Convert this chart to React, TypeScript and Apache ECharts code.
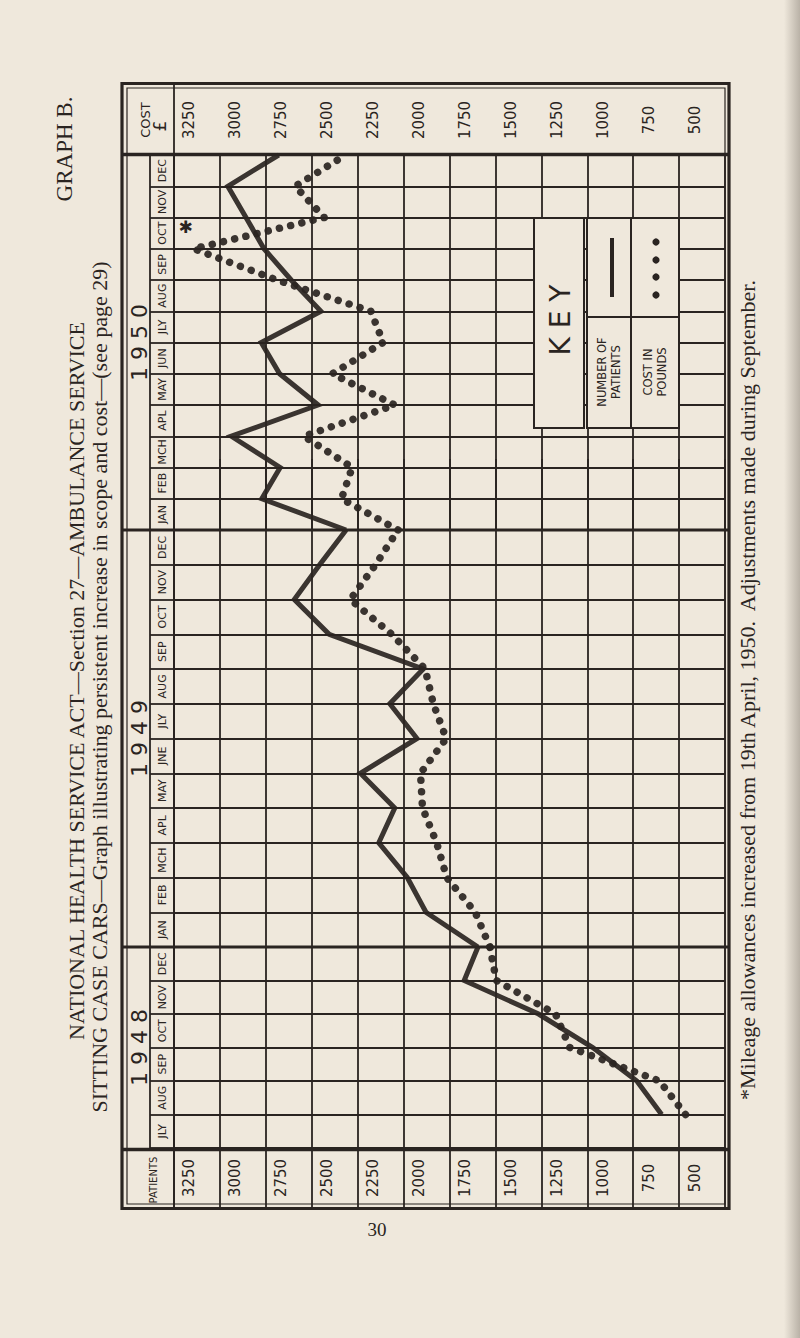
import React, { useEffect, useRef } from "react";
import * as echarts from "echarts";

// ---------- data ----------
const costTicks = ["3250", "3000", "2750", "2500", "2250", "2000", "1750", "1500", "1250", "1000", "750", "500"];
const months1948 = ["JLY", "AUG", "SEP", "OCT", "NOV", "DEC"];
const months1949 = ["JAN", "FEB", "MCH", "APL", "MAY", "JNE", "JLY", "AUG", "SEP", "OCT", "NOV", "DEC"];
const months1950 = ["JAN", "FEB", "MCH", "APL", "MAY", "JUN", "JLY", "AUG", "SEP", "OCT", "NOV", "DEC"];

const patients1948 = [720, 855, 1095, 1390, 1795, 1720];
const patients1949 = [2003, 2105, 2260, 2173, 2360, 2052, 2200, 2018, 2530, 2720, 2582, 2438];
const patients1950 = [2897, 2797, 3063, 2590, 2800, 2900, 2575, 2737, 2885, 2983, 3082, 2805];

const cost1948 = [590, 732, 1220, 1298, 1620, 1655];
const cost1949 = [1735, 1890, 1945, 2022, 2033, 1893, 1963, 2008, 2190, 2415, 2278, 2155];
const cost1950 = [2463, 2405, 2668, 2173, 2513, 2236, 2303, 2815, 3268, 2557, 2715, 2440];

const yearLabels = ["1 9 5 0", "1 9 4 9", "1 9 4 8"];
const adjustedMonthIndex1950 = 8; // September 1950 (marked *)

// ---------- style / layout ----------
const INK = "#2a2421";
const PAPER = "#efe8dc";
const HAND = "DejaVu Sans, sans-serif";
const SERIF = "Liberation Serif, Times New Roman, serif";
const PLOT_LEFT = 174;
const PLOT_W = 551;
const STEP = Number(costTicks[0]) - Number(costTicks[1]);
const VMAX = Number(costTicks[0]) + STEP / 2;
const VMIN = Number(costTicks[costTicks.length - 1]) - STEP / 2;

const sections = [
  { year: yearLabels[0], months: months1950, patients: patients1950, cost: cost1950,
    prevP: patients1949[patients1949.length - 1], prevC: cost1949[cost1949.length - 1], top: 155, height: 375 },
  { year: yearLabels[1], months: months1949, patients: patients1949, cost: cost1949,
    prevP: patients1948[patients1948.length - 1], prevC: cost1948[cost1948.length - 1], top: 530, height: 417 },
  { year: yearLabels[2], months: months1948, patients: patients1948, cost: cost1948,
    prevP: null as number | null, prevC: null as number | null, top: 947, height: 201 },
];

const pts = (vals: number[], prev: number | null) => {
  const out: number[][] = prev == null ? [] : [[prev, 0]];
  vals.forEach((v, i) => out.push([v, i + 1]));
  return out;
};

const rotText = (text: string, x: number, y: number, fontSize: number, fontFamily: string, extra: any = {}) => ({
  type: "text",
  x,
  y,
  rotation: Math.PI / 2,
  z: extra.z ?? 20,
  silent: true,
  style: {
    text,
    fill: INK,
    fontSize,
    fontFamily,
    fontWeight: extra.fontWeight ?? "normal",
    align: "center",
    verticalAlign: "middle",
    textAlign: "center",
    textVerticalAlign: "middle",
    lineHeight: extra.lineHeight,
  },
});

const hline = (y: number, x1: number, x2: number, w: number, z = 10) => ({
  type: "line", z, silent: true,
  shape: { x1, y1: y, x2, y2: y },
  style: { stroke: INK, lineWidth: w },
});
const vline = (x: number, y1: number, y2: number, w: number, z = 10) => ({
  type: "line", z, silent: true,
  shape: { x1: x, y1, x2: x, y2 },
  style: { stroke: INK, lineWidth: w },
});

function buildOption(): any {
  const grid: any[] = [];
  const xAxis: any[] = [];
  const yAxis: any[] = [];
  const series: any[] = [];
  const last = sections.length - 1;

  sections.forEach((s, g) => {
    grid.push({ left: PLOT_LEFT, top: s.top, width: PLOT_W, height: s.height, outerBoundsMode: "none" });
    const showLab = g === 0 || g === last;
    xAxis.push({
      type: "category",
      gridIndex: g,
      data: costTicks,
      position: g === 0 ? "top" : "bottom",
      boundaryGap: true,
      axisLine: { show: false },
      axisTick: {
        show: showLab,
        interval: 0,
        length: g === 0 ? 71 : 60,
        lineStyle: { color: INK, width: 1.8 },
      },
      axisLabel: {
        show: showLab,
        interval: 0,
        rotate: 90,
        align: "center",
        verticalAlign: "bottom",
        margin: g === 0 ? 35 : 30,
        fontSize: 15,
        fontFamily: HAND,
        color: INK,
      },
      splitLine: { show: true, interval: 0, lineStyle: { color: INK, width: 1.8 } },
    });
    xAxis.push({ type: "value", gridIndex: g, min: VMIN, max: VMAX, inverse: true, show: false });
    yAxis.push({
      type: "category",
      gridIndex: g,
      data: s.months,
      position: "left",
      boundaryGap: true,
      axisLine: { show: true, lineStyle: { color: INK, width: 1.8 } },
      axisTick: { show: true, interval: 0, length: 24, lineStyle: { color: INK, width: 1.8 } },
      axisLabel: {
        interval: 0,
        rotate: 90,
        align: "center",
        verticalAlign: "middle",
        margin: 12,
        fontSize: 11,
        fontFamily: HAND,
        color: INK,
      },
      splitLine: { show: true, interval: 0, lineStyle: { color: INK, width: 1.8 } },
    });
    yAxis.push({ type: "value", gridIndex: g, min: 0, max: s.months.length, show: false });

    series.push({
      type: "line",
      name: "Number of Patients",
      xAxisIndex: 2 * g + 1,
      yAxisIndex: 2 * g + 1,
      data: pts(s.patients, s.prevP),
      symbol: "none",
      silent: true,
      z: 5,
      lineStyle: { color: INK, width: 5, join: "miter", cap: "butt", opacity: 0.92 },
    });
    const costSeries: any = {
      type: "line",
      name: "Cost in Pounds",
      xAxisIndex: 2 * g + 1,
      yAxisIndex: 2 * g + 1,
      data: pts(s.cost, s.prevC),
      symbol: "none",
      silent: true,
      z: 6,
      lineStyle: { color: INK, width: 7.5, type: [0.01, 11.5], cap: "round", opacity: 0.92 },
    };
    if (g === 0) {
      costSeries.markPoint = {
        symbol: "circle",
        symbolSize: 1,
        silent: true,
        itemStyle: { color: "rgba(0,0,0,0)" },
        label: { show: true, formatter: "✱", color: INK, fontSize: 17, fontFamily: HAND, offset: [-8, -22] },
        data: [{ coord: [s.cost[adjustedMonthIndex1950], adjustedMonthIndex1950 + 1] }],
      };
    }
    series.push(costSeries);
  });

  const graphic: any[] = [
    // scanned page edge shadow
    {
      type: "rect", z: 1, silent: true, shape: { x: 784, y: 0, width: 16, height: 1338 },
      style: {
        fill: new echarts.graphic.LinearGradient(0, 0, 1, 0, [
          { offset: 0, color: "rgba(120,112,102,0)" },
          { offset: 1, color: "rgba(120,112,102,0.45)" },
        ]),
      },
    },
    // frame
    { type: "rect", z: 10, silent: true, shape: { x: 122, y: 83.5, width: 607, height: 1125 },
      style: { fill: "none", stroke: INK, lineWidth: 3.2 } },
    { type: "rect", z: 10, silent: true, shape: { x: 127, y: 88, width: 598, height: 1116 },
      style: { fill: "none", stroke: INK, lineWidth: 1.2 } },
    hline(154.5, 122, 729, 3.5),
    hline(1149.5, 122, 729, 3.5),
    hline(sections[1].top, 122, 729, 3.2),
    hline(sections[2].top, 122, 729, 3.2),
    vline(150, 155, 1149, 1.8),
    vline(PLOT_LEFT, 84, 1208, 1.8),
    // header / footer cell texts
    rotText("COST", 145, 120, 13, HAND),
    rotText("£", 160, 126, 17, HAND),
    rotText("PATIENTS", 153, 1180, 10, HAND),
    // year labels
    ...sections.map((s) => rotText(s.year, 139, s.top + s.height / 2, 22, HAND)),
    // titles
    rotText("GRAPH B.", 64, 149, 23, SERIF),
    rotText("NATIONAL HEALTH SERVICE ACT—Section 27—AMBULANCE SERVICE", 76, 681, 22, SERIF),
    rotText("SITTING CASE CARS—Graph illustrating persistent increase in scope and cost—(see page 29)", 99, 687, 22, SERIF),
    rotText("*Mileage allowances increased from 19th April, 1950.  Adjustments made during September.", 747, 690, 22, SERIF),
    {
      type: "text", x: 377, y: 1229, z: 20, silent: true,
      style: { text: "30", fill: INK, fontSize: 19, fontFamily: SERIF, align: "center", verticalAlign: "middle",
        textAlign: "center", textVerticalAlign: "middle" },
    },
    // key
    { type: "rect", z: 50, silent: true, shape: { x: 534, y: 218, width: 50, height: 210 },
      style: { fill: PAPER, stroke: INK, lineWidth: 2 } },
    { type: "rect", z: 50, silent: true, shape: { x: 587, y: 218, width: 92, height: 210 },
      style: { fill: PAPER, stroke: INK, lineWidth: 2 } },
    vline(631, 218, 428, 2, 51),
    hline(317, 587, 679, 2, 51),
    rotText("K E Y", 560, 320, 28, HAND, { z: 52 }),
    rotText("NUMBER OF\nPATIENTS", 609, 372, 11.5, HAND, { z: 52, lineHeight: 14 }),
    rotText("COST IN\nPOUNDS", 655, 372, 11.5, HAND, { z: 52, lineHeight: 14 }),
    vline(612, 238, 297, 4, 52),
    ...[242, 260, 277, 295].map((cy) => ({
      type: "circle", z: 52, silent: true, shape: { cx: 656, cy, r: 3.6 }, style: { fill: INK },
    })),
  ];

  return {
    animation: false,
    backgroundColor: PAPER,
    grid,
    xAxis,
    yAxis,
    series,
    graphic: { elements: graphic },
  };
}

export default function App() {
  const ref = useRef<HTMLDivElement>(null);
  useEffect(() => {
    document.body.style.margin = "0";
    document.body.style.background = PAPER;
    const chart = echarts.init(ref.current as HTMLDivElement, null, { renderer: "svg" });
    chart.setOption(buildOption());
    return () => chart.dispose();
  }, []);
  return <div ref={ref} style={{ width: 800, height: 1338 }} />;
}
